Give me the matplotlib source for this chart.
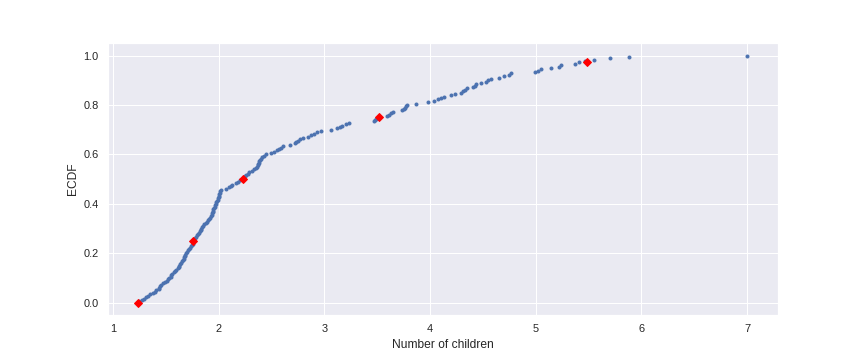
import numpy as np
import matplotlib
matplotlib.use('Agg')
import matplotlib.pyplot as plt
import seaborn as sns

# fertility values (children per woman), sorted
children = [1.25, 1.27, 1.29, 1.31, 1.33, 1.35, 1.38, 1.40, 1.41,
            1.43, 1.435, 1.44, 1.45, 1.47, 1.49, 1.51, 1.52, 1.53,
            1.545, 1.55, 1.56, 1.58, 1.59, 1.60, 1.61, 1.62, 1.625, 1.63,
            1.64, 1.65, 1.66, 1.67, 1.675, 1.68, 1.685, 1.69, 1.70, 1.71,
            1.72, 1.73, 1.74, 1.75, 1.755, 1.76, 1.76,
            1.77, 1.775, 1.78, 1.79, 1.80, 1.81, 1.82, 1.83, 1.835, 1.84,
            1.85, 1.865, 1.88, 1.89, 1.90, 1.91, 1.92, 1.93, 1.935, 1.94,
            1.945, 1.95, 1.95, 1.955, 1.96, 1.965, 1.97, 1.975, 1.98, 1.99,
            1.995, 2.00, 2.00, 2.005, 2.01, 2.015, 2.02,
            2.07, 2.10, 2.12, 2.13, 2.16, 2.18, 2.20, 2.22,
            2.24, 2.25, 2.26, 2.28, 2.29, 2.31, 2.33, 2.35, 2.36, 2.37,
            2.375, 2.38, 2.385, 2.39, 2.40, 2.41, 2.43, 2.45, 2.49, 2.52,
            2.55, 2.57, 2.59, 2.61, 2.67, 2.72, 2.735, 2.75, 2.77, 2.80,
            2.84, 2.87, 2.90, 2.93, 2.97, 3.06, 3.12, 3.15, 3.17, 3.20, 3.23,
            3.47, 3.48, 3.49, 3.52, 3.59, 3.61, 3.63, 3.65, 3.73, 3.75,
            3.76, 3.77, 3.78, 3.87, 3.98, 4.04, 4.07, 4.10, 4.13, 4.20,
            4.24, 4.29, 4.31, 4.33, 4.35, 4.41, 4.42, 4.43, 4.48, 4.53,
            4.55, 4.58, 4.65, 4.70, 4.75, 4.77, 4.99, 5.02, 5.05, 5.14,
            5.22, 5.24, 5.37, 5.41, 5.47, 5.55, 5.70, 5.88, 7.00]

# percentile markers
ptile_x = [1.24, 1.76, 2.23, 3.52, 5.48]
ptile_y = [0.0, 0.25, 0.50, 0.75, 0.975]

def ecdf(data):
    x = np.sort(data)
    y = np.arange(1, len(x) + 1) / len(x)
    return x, y

sns.set()
plt.rcParams['font.family'] = ['Liberation Sans', 'DejaVu Sans']
fig = plt.figure(figsize=(12, 5), dpi=72)
plt.subplots_adjust(bottom=0.125, top=0.88)

x, y = ecdf(children)
plt.plot(x, y, marker='.', linestyle='none')
plt.plot(ptile_x, ptile_y, marker='D', color='red', linestyle='none')
plt.xlabel('Number of children')
plt.ylabel('ECDF')

plt.savefig('out.png', dpi=72)
